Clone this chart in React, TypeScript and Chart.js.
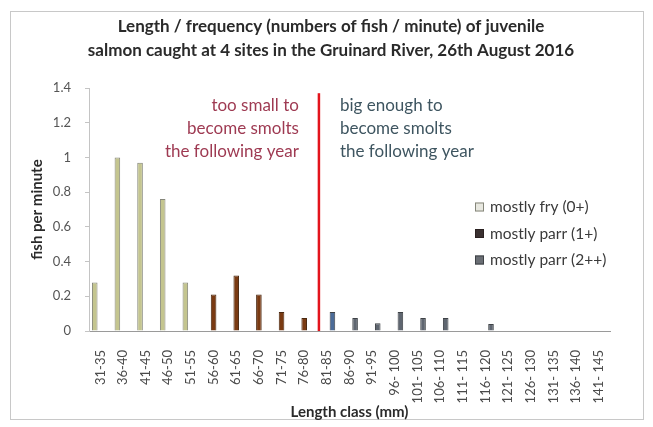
import React, { useEffect, useRef } from "react";
import { Chart, registerables } from "chart.js";

Chart.register(...registerables);

const lengthClasses = [
  "31-35", "36-40", "41-45", "46-50", "51-55", "56-60", "61-65", "66-70", "71-75", "76-80",
  "81-85", "86-90", "91-95", "96- 100", "101- 105", "106- 110", "111- 115", "116- 120", "121- 125",
  "126- 130", "131- 135", "136- 140", "141- 145",
];

const fry0 = [0.28, 1.0, 0.97, 0.76, 0.28, 0, 0, 0, 0, 0, 0, 0, 0, 0, 0, 0, 0, 0, 0, 0, 0, 0, 0];
const parr1 = [0, 0, 0, 0, 0, 0.21, 0.32, 0.21, 0.11, 0.075, 0, 0, 0, 0, 0, 0, 0, 0, 0, 0, 0, 0, 0];
const parr2 = [0, 0, 0, 0, 0, 0, 0, 0, 0, 0, 0.11, 0.075, 0.045, 0.11, 0.075, 0.075, 0, 0.04, 0, 0, 0, 0, 0];

const seriesNames = ["mostly fry (0+)", "mostly parr (1+)", "mostly parr (2++)"];
const yTicks = [0, 0.2, 0.4, 0.6, 0.8, 1, 1.2, 1.4];
const yTickLabels = ["0", "0.2", "0.4", "0.6", "0.8", "1", "1.2", "1.4"];

const titleLines = [
  "Length / frequency (numbers of fish / minute) of juvenile",
  "salmon caught at 4 sites in the Gruinard River, 26th August 2016",
];
const leftNote = ["too small to", "become smolts", "the following year"];
const rightNote = ["big enough to", "become smolts", "the following year"];

const FONT = "Lato, 'Open Sans', sans-serif";

const fryFill = "#c4c58f";
const fryBorder = "#85867a";
const parr1Fill = "#7a3a12";
const parr1Border = "#4a2810";
const parr2Fill = "#5f6670";
const parr2Border = "#3e4246";
const parr2Colors = lengthClasses.map((_, i) => (i === 10 ? "#4b6b98" : parr2Fill));

export default function App() {
  const ref = useRef<HTMLCanvasElement | null>(null);

  useEffect(() => {
    if (!ref.current) return;
    const overlay = {
      id: "overlay",
      beforeDraw(chart: any) {
        const { ctx } = chart;
        ctx.save();
        ctx.fillStyle = "#ffffff";
        ctx.fillRect(0, 0, chart.width, chart.height);
        ctx.strokeStyle = "#c8c8c8";
        ctx.lineWidth = 1;
        ctx.strokeRect(10.5, 11.5, 633, 408);
        ctx.fillStyle = "#2a2a2a";
        ctx.font = `bold 17px ${FONT}`;
        ctx.textAlign = "center";
        ctx.textBaseline = "middle";
        ctx.fillText(titleLines[0], 331, 27);
        ctx.fillText(titleLines[1], 331, 51);
        ctx.restore();
      },
      afterDatasetsDraw(chart: any) {
        const { ctx, chartArea } = chart;
        const x = chart.scales.x;
        const y = chart.scales.y;
        const lx = x.getPixelForValue(9.65);
        ctx.save();
        ctx.strokeStyle = "#e3141c";
        ctx.lineWidth = 2.5;
        ctx.beginPath();
        ctx.moveTo(lx, y.getPixelForValue(1.37));
        ctx.lineTo(lx, y.getPixelForValue(0));
        ctx.stroke();

        ctx.font = `17px ${FONT}`;
        ctx.textBaseline = "middle";
        ctx.textAlign = "right";
        ctx.fillStyle = "#9e3a52";
        leftNote.forEach((t, i) => ctx.fillText(t, lx - 20, chartArea.top + 18 + i * 23));
        ctx.textAlign = "left";
        ctx.fillStyle = "#3e5560";
        rightNote.forEach((t, i) => ctx.fillText(t, lx + 21, chartArea.top + 18 + i * 23));

        // legend
        const borders = [fryBorder, "#2a2020", parr2Border];
        const swatch = ["#e8e8e0", "#3a3030", "#6a6e74"];
        const lgX = 475;
        ctx.font = `15.5px ${FONT}`;
        seriesNames.forEach((name, i) => {
          const cy = 207 + i * 26.5;
          ctx.fillStyle = swatch[i];
          ctx.fillRect(lgX, cy - 4.5, 9, 9);
          ctx.strokeStyle = borders[i];
          ctx.lineWidth = 1;
          ctx.strokeRect(lgX + 0.5, cy - 4, 8, 8);
          ctx.fillStyle = "#3a3a3a";
          ctx.fillText(name, lgX + 15, cy);
        });
        ctx.restore();
      },
    };

    const chart = new Chart(ref.current, {
      type: "bar",
      data: {
        labels: lengthClasses,
        datasets: [
          { label: seriesNames[0], data: fry0, backgroundColor: fryFill, borderColor: fryBorder, borderWidth: 1 },
          { label: seriesNames[1], data: parr1, backgroundColor: parr1Fill, borderColor: parr1Border, borderWidth: 1 },
          { label: seriesNames[2], data: parr2, backgroundColor: parr2Colors, borderColor: parr2Border, borderWidth: 1 },
        ],
      },
      options: {
        responsive: false,
        animation: false,
        devicePixelRatio: 1,
        layout: { padding: { left: 28, right: 43, top: 88, bottom: 5 } },
        datasets: { bar: { categoryPercentage: 0.74, barPercentage: 1.0 } },
        plugins: {
          legend: { display: false },
          title: { display: false },
          tooltip: { enabled: false },
        },
        scales: {
          x: {
            afterFit(scale: any) {
              scale.height = 427 - 5 - 88 - 243;
            },
            grid: { display: false },
            border: { display: true, color: "#9a9a9a", width: 1 },
            ticks: {
              minRotation: 90,
              maxRotation: 90,
              autoSkip: false,
              padding: 11,
              color: "#4a4a4a",
              font: { family: FONT, size: 13 },
            },
            title: {
              display: true,
              text: "Length class (mm)",
              color: "#2a2a2a",
              font: { family: FONT, size: 15, weight: "bold" },
              padding: { top: 2, bottom: 1 },
            },
          },
          y: {
            min: 0,
            max: 1.4,
            afterFit(scale: any) {
              scale.width = 61;
            },
            afterBuildTicks(scale: any) {
              scale.ticks = yTicks.map((v) => ({ value: v }));
            },
            grid: { drawOnChartArea: false, drawTicks: true, tickLength: 4, color: "#c4c4c4" },
            border: { display: true, color: "#c4c4c4" },
            ticks: {
              padding: 14,
              color: "#555555",
              font: { family: FONT, size: 13 },
              callback: (_v: any, i: number) => yTickLabels[i],
            },
            title: {
              display: true,
              text: "fish per minute",
              color: "#2a2a2a",
              font: { family: FONT, size: 15, weight: "bold" },
              padding: { top: 0, bottom: 0 },
            },
          },
        },
      },
      plugins: [overlay],
    });
    return () => chart.destroy();
  }, []);

  return (
    <div style={{ position: "absolute", left: 0, top: 0, width: 653, height: 427 }}>
      <canvas ref={ref} width={653} height={427} style={{ width: 653, height: 427 }} />
    </div>
  );
}
